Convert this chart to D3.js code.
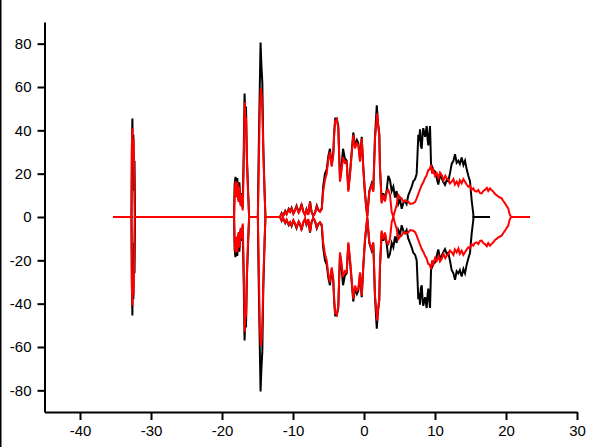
<!DOCTYPE html>
<html><head><meta charset="utf-8">
<script src="https://cdn.jsdelivr.net/npm/d3@7"></script>
<style>
html,body{margin:0;padding:0;background:#fff;}
svg{display:block;}
text{font-family:"Liberation Sans",Arial,sans-serif;}
</style></head>
<body><svg id="c" width="601" height="447"></svg>
<script>
// ---- data ----
const xMajor = [-40,-30,-20,-10,0,10,20,30];
const xMinor = [-45,-35,-25,-15,-5,5,15,25];
const yMajor = [-80,-60,-40,-20,0,20,40,60,80];
const yMinor = [-90,-70,-50,-30,-10,10,30,50,70,90];

// black series: x positions and upper envelope (curve is symmetric about y=0)
const blackX = [-35.3,-32.75,-32.7,-32.62,-32.55,-32.48,-32.4,-32.32,-32.25,-18.3,-18.22,-18.1,-17.98,-17.85,-17.7,-17.55,-17.4,-17.25,-17.1,-16.95,-16.82,-16.72,-16.62,-16.5,-16.32,-16.18,-14.95,-14.85,-14.7,-14.57,-14.45,-14.32,-14.18,-14.0,-13.88,-11.83,-11.6,-11.4,-11.1,-10.9,-10.6,-10.4,-10.2,-9.95,-9.7,-9.5,-9.2,-9.0,-8.8,-8.55,-8.3,-8.1,-7.85,-7.6,-7.4,-7.15,-6.9,-6.65,-6.45,-6.2,-5.95,-5.75,-5.5,-5.25,-5.03,-4.8,-4.55,-4.32,-4.2,-4.05,-3.84,-3.62,-3.5,-3.38,-3.2,-2.95,-2.7,-2.44,-2.21,-1.97,-1.51,-1.27,-1.0,-0.8,-0.56,-0.32,-0.1,0.12,0.28,0.46,0.75,1.08,1.31,1.55,1.8,1.95,2.15,2.25,2.49,2.72,2.96,3.2,3.42,3.66,3.9,4.13,4.37,4.6,4.83,5.08,5.31,5.55,5.77,6.0,6.24,6.48,6.72,6.94,7.2,7.42,7.55,7.65,7.78,7.89,8.0,8.13,8.25,8.35,8.6,8.83,8.95,9.06,9.18,9.3,9.44,9.7,10.0,10.24,10.46,10.7,10.94,11.2,11.41,11.65,11.87,12.1,12.35,12.6,12.82,13.05,13.28,13.5,13.76,14.0,14.23,14.46,14.7,14.93,15.17,15.39,15.42,17.75];
const blackUpper = [0,0,30,45.5,22,38,12,26,0,0,15,18.5,10,18,8,16,6,11,4,28,57,46,51,28,12,0,0,26,56,80.5,70,62,32,12,0,0,1.8,0.4,2.8,1.4,3.8,2.6,4.2,1.6,3.4,5.2,2.2,3.6,6,2.6,1,3.6,1.2,7.2,2.6,0.6,2,5.2,3.4,2.6,4,14,20,22,28,31.5,24,30,39,45.5,45.5,42,29,17.5,22,31.5,27,26,12.5,20.5,39,33,35.5,34,26.5,37,23,12,6,0.5,12,15.5,12.5,37,51.5,44,38.5,23,7,11,8,12.5,19,17,12,14,9,12,6,8,3.8,6.5,7.5,6,10,12,14,16.5,17.5,20,30,38,35,40.5,33,31.5,38,41,37,42,36,33,38,42,24.5,22,21,18,15,19,18,16,14.8,17,16.5,20,24.5,26,29,25,26,24.5,27.5,24,26,22,19,16.5,7.5,1.5,0,0];

// red series: x positions and upper envelope
const redX = [-35.3,-32.75,-32.68,-32.62,-32.55,-32.45,-32.38,-32.3,-18.3,-18.2,-18.08,-17.95,-17.82,-17.68,-17.52,-17.38,-17.22,-17.08,-16.95,-16.8,-16.7,-16.6,-16.48,-16.32,-16.18,-14.95,-14.82,-14.68,-14.52,-14.4,-14.28,-14.15,-14.0,-13.88,-11.83,-11.6,-11.4,-11.1,-10.9,-10.6,-10.4,-10.2,-9.95,-9.7,-9.5,-9.2,-9.0,-8.8,-8.55,-8.3,-8.1,-7.85,-7.6,-7.4,-7.15,-6.9,-6.65,-6.45,-6.2,-5.95,-5.75,-5.5,-5.25,-5.03,-4.8,-4.55,-4.32,-4.2,-4.08,-3.84,-3.62,-3.5,-3.38,-3.2,-2.95,-2.7,-2.44,-2.21,-1.97,-1.51,-1.27,-1.0,-0.8,-0.56,-0.32,-0.1,0.12,0.28,0.46,0.75,1.08,1.31,1.55,1.86,2.0,2.15,2.25,2.49,2.72,2.96,3.2,3.42,3.66,3.9,4.13,4.37,4.6,4.83,5.08,5.31,5.55,5.8,6.24,6.5,6.94,7.2,7.42,7.8,8.13,8.35,8.59,8.8,9.06,9.25,9.44,9.6,9.77,10.0,10.24,10.5,10.7,10.94,11.2,11.45,11.65,11.9,12.1,12.35,12.6,12.8,13.06,13.3,13.5,13.76,14.0,14.23,14.45,14.69,14.9,15.15,15.39,15.6,15.87,16.1,16.35,16.58,16.8,17.04,17.3,17.5,17.75,18.0,18.21,18.5,18.7,18.92,19.15,19.39,19.6,19.86,20.1,20.32,20.45,20.56,20.75,23.38];
const redUpper = [0,0,34,41,28,36,20,0,0,13,16.5,9,16,7,14,5,10,3,22,53,43,46,25,10,0,0,22,50,59.5,56,44,26,10,0,0,1.5,0.3,2.5,1.2,3.5,2.4,3.8,1.5,3,4.8,2,3.2,5.5,2.4,0.8,3.2,1,6.8,2.4,0.5,1.7,4.8,3.2,2.4,3.5,11.7,17.1,20,26.3,30.1,23.2,28.6,38,44,45.2,40.9,28,16.3,20.5,27.5,25,25.5,11.7,19.4,37.8,31.7,34,33.2,25.5,36.3,22.5,11,5.5,0,11.7,14.8,11.7,36.3,47.8,42,37.8,22.5,6.3,10.2,7.1,11.7,12.5,10.2,2.4,0,3,5.5,10.2,9,8.6,7,7.5,7.1,6,6.3,7,8.6,12,14.8,16,17.9,19,21.7,22,24,20,21.7,19,20.2,18,20.5,19.4,17,19,17.9,17,15.5,16.3,17.5,15,16.3,14.5,17,15.6,17.5,16.3,15,14,14.5,12.5,13.2,12,11.7,12.5,11,10.9,12,12.5,13.5,12,13.2,12.3,11.7,10.5,10,9.4,9,8.6,7.5,6.3,5,4,2,0.9,0,0];

// ---- drawing ----
const svg = d3.select("#c");
const W = 601, H = 447;
const x = d3.scaleLinear().domain([-45,30]).range([44.5,577]);
const y = d3.scaleLinear().domain([-90,90]).range([412,22]);

// left window border
svg.append("rect").attr("x",0).attr("y",0).attr("width",1.5).attr("height",H).attr("fill","#000");

function drawSeries(xs, ys, color, width){
  const up = xs.map((v,i)=>[v, ys[i]]);
  const lo = xs.map((v,i)=>[v, -ys[i]]);
  const line = d3.line().x(d=>x(d[0])).y(d=>y(d[1]));
  [up, lo].forEach(pts=>{
    svg.append("path").attr("d", line(pts)).attr("fill","none")
      .attr("stroke", color).attr("stroke-width", width).attr("stroke-linejoin","miter");
  });
}
drawSeries(blackX, blackUpper, "#000", 2);
drawSeries(redX, redUpper, "#ff0000", 2);

// axes
const fmt = d => String(d);
const gx = svg.append("g").attr("transform",`translate(0,${y(-90)})`);
gx.call(d3.axisBottom(x).tickValues(xMinor).tickSize(4).tickSizeOuter(0).tickFormat(""));
gx.call(d3.axisBottom(x).tickValues(xMajor).tickSize(8).tickSizeOuter(0).tickFormat(fmt).tickPadding(5));
const gy = svg.append("g").attr("transform",`translate(${x(-45)},0)`);
gy.call(d3.axisLeft(y).tickValues(yMinor).tickSize(4).tickSizeOuter(0).tickFormat(""));
gy.call(d3.axisLeft(y).tickValues(yMajor).tickSize(7).tickSizeOuter(0).tickFormat(fmt).tickPadding(6));
svg.selectAll(".domain").attr("stroke","#000").attr("stroke-width",2);
svg.selectAll(".tick line").attr("stroke","#000").attr("stroke-width",2);
svg.selectAll(".tick text").attr("fill","#000").style("font-size","15px").style("font-family","'Liberation Sans',Arial,sans-serif");
</script></body></html>
